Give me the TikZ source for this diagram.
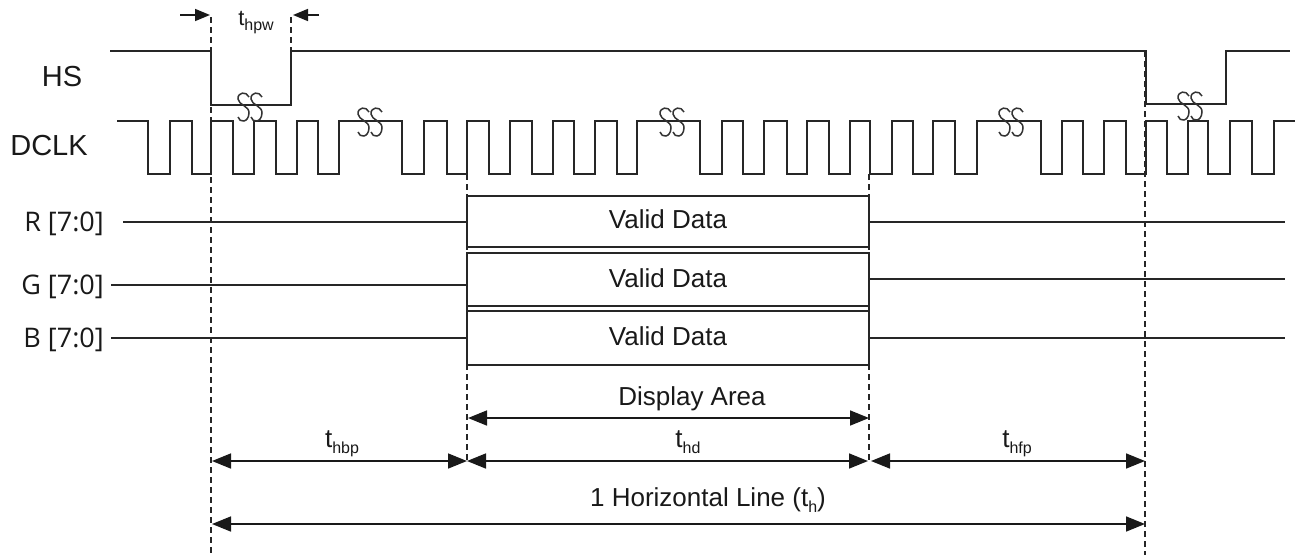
\documentclass[tikz,border=0pt]{standalone}
\usepackage{fontspec}
\setmainfont{Liberation Sans}
\newfontfamily\lblfont{Open Sans}
\usetikzlibrary{arrows.meta}
\newcommand\tsb[2]{#1\raisebox{-0.5ex}{\fontsize{16}{16}\selectfont #2}}
\begin{document}
\begin{tikzpicture}[x=1pt,y=-1pt,
  sig/.style={line width=1.8pt, draw=black!85, line join=miter},
  guide/.style={line width=1.3pt, draw=black!85, dash pattern=on 6pt off 4pt},
  dim/.style={line width=1.6pt, draw=black!90,
    {Triangle[length=19pt,width=15pt]}-{Triangle[length=19pt,width=15pt]}},
  small/.style={line width=1.6pt, draw=black!90, -{Triangle[length=15pt,width=12pt]}},
  databox/.style={draw=black!85, line width=1.6pt, fill=white, minimum width=402pt, inner sep=0pt},
  txt/.style={font=\fontsize{26}{30}\selectfont, inner sep=0pt, text=black!90},
  sigtxt/.style={font=\fontsize{29}{32}\selectfont, inner sep=0pt, text=black!90},
  lbl/.style={font=\lblfont\fontsize{27}{30}\selectfont, inner sep=0pt, text=black!90},
  brk/.pic={
    \foreach \dx in {-6.5,6.5}{
      \draw[line width=1.5pt, draw=black!80, xshift=\dx]
        (5.5,-10) .. controls (3,-16) and (-6,-15) .. (-5.5,-8)
        .. controls (-5,-2) and (6,-1) .. (5.5,6)
        .. controls (5,16) and (-4,16) .. (-5.5,10);
    }
  }
]
\useasboundingbox (0,0) rectangle (1299,555);

% named reference points
\coordinate (xA) at (211,0);
\coordinate (xB) at (467,0);
\coordinate (xC) at (869,0);
\coordinate (xD) at (1145,0);

% dashed guide lines
\draw[guide] (211,17) -- (211,555);
\draw[guide] (291,17) -- (291,51);
\draw[guide] (467,174) -- (467,462);
\draw[guide] (869,174) -- (869,462);
\draw[guide] (1145,51) -- (1145,555);

% signal names
\node[sigtxt, anchor=base] (hs) at (62,86) {HS};
\node[sigtxt, anchor=base] (dclk) at (49,155) {DCLK};

% HS waveform
\draw[sig] (110,51) -- (211,51) -- (211,105) -- (291,105) -- (291,51)
  -- (1146,51) -- (1146,104) -- (1226,104) -- (1226,51) -- (1290,51);

% DCLK waveform
\draw[sig] (117,121)
  \foreach \f/\r in {148/170,192/211,233/254,276/297,318/339,402/424,447/467,
     489/510,532/553,574/595,617/637,700/722,743/764,787/807,829/850,870/892,
     913/933,955/977,1041/1062,1083/1104,1126/1146,1167/1188,1208/1230,1252/1274}
  { -- (\f,121) -- (\f,174) -- (\r,174) -- (\r,121) } -- (1295,121);

% break marks
\pic at (250,107) {brk};
\pic at (1190,106) {brk};
\pic at (370,122) {brk};
\pic at (672,122) {brk};
\pic at (1011,122) {brk};

% t_hpw
\coordinate (hpwL) at (180,15);
\coordinate (hpwR) at (319,15);
\draw[small] (hpwL) -- (210,15);
\draw[small] (hpwR) -- (293,15);
\node[txt, anchor=base, font=\fontsize{22}{24}\selectfont] (thpw) at (256,25) {\tsb{t}{hpw}};

% data rows
\node[lbl, anchor=base east] (rl) at (104,231) {R [7:0]};
\node[lbl, anchor=base east] (gl) at (104,294) {G [7:0]};
\node[lbl, anchor=base east] (bl) at (104,347) {B [7:0]};

\node[databox, minimum height=51pt] (rbox) at (668,221.5) {};
\node[databox, minimum height=53pt] (gbox) at (668,279.5) {};
\node[databox, minimum height=54pt] (bbox) at (668,338) {};

\node[txt, anchor=base] (rtxt) at (668,228) {Valid Data};
\node[txt, anchor=base] (gtxt) at (668,287) {Valid Data};
\node[txt, anchor=base] (btxt) at (668,345) {Valid Data};

\coordinate (rs) at (123,222);
\coordinate (re) at (1285,222);
\coordinate (gs) at (111,285);
\coordinate (ge) at (1285,279);
\coordinate (bs) at (111,338);
\coordinate (be) at (1285,338);
\draw[sig, line width=1.6pt] (rs) -- (rs -| rbox.west);
\draw[sig, line width=1.6pt] (re -| rbox.east) -- (re);
\draw[sig, line width=1.6pt] (gs) -- (gs -| gbox.west);
\draw[sig, line width=1.6pt] (ge -| gbox.east) -- (ge);
\draw[sig, line width=1.6pt] (bs) -- (bs -| bbox.west);
\draw[sig, line width=1.6pt] (be -| bbox.east) -- (be);

% dimension arrows
\coordinate (daL) at (468,418);
\coordinate (daR) at (869,418);
\draw[dim] (daL) -- (daR);
\node[txt, anchor=base] (da) at (692,405) {Display Area};

\coordinate (p1) at (212,461);
\coordinate (p2) at (467,461);
\coordinate (p3) at (868,461);
\coordinate (p4) at (871,461);
\coordinate (p5) at (1145,461);
\draw[dim] (p1) -- (p2);
\draw[dim] (p2) -- (p3);
\draw[dim] (p4) -- (p5);
\node[txt, anchor=base] (thbp) at (342,447) {\tsb{t}{hbp}};
\node[txt, anchor=base] (thd) at (688,447) {\tsb{t}{hd}};
\node[txt, anchor=base] (thfp) at (1017,447) {\tsb{t}{hfp}};

\coordinate (h1) at (212,524);
\coordinate (h2) at (1145,524);
\draw[dim] (h1) -- (h2);
\node[txt, anchor=base] (hl) at (708,506) {1 Horizontal Line (\tsb{t}{h})};
\end{tikzpicture}
\end{document}
